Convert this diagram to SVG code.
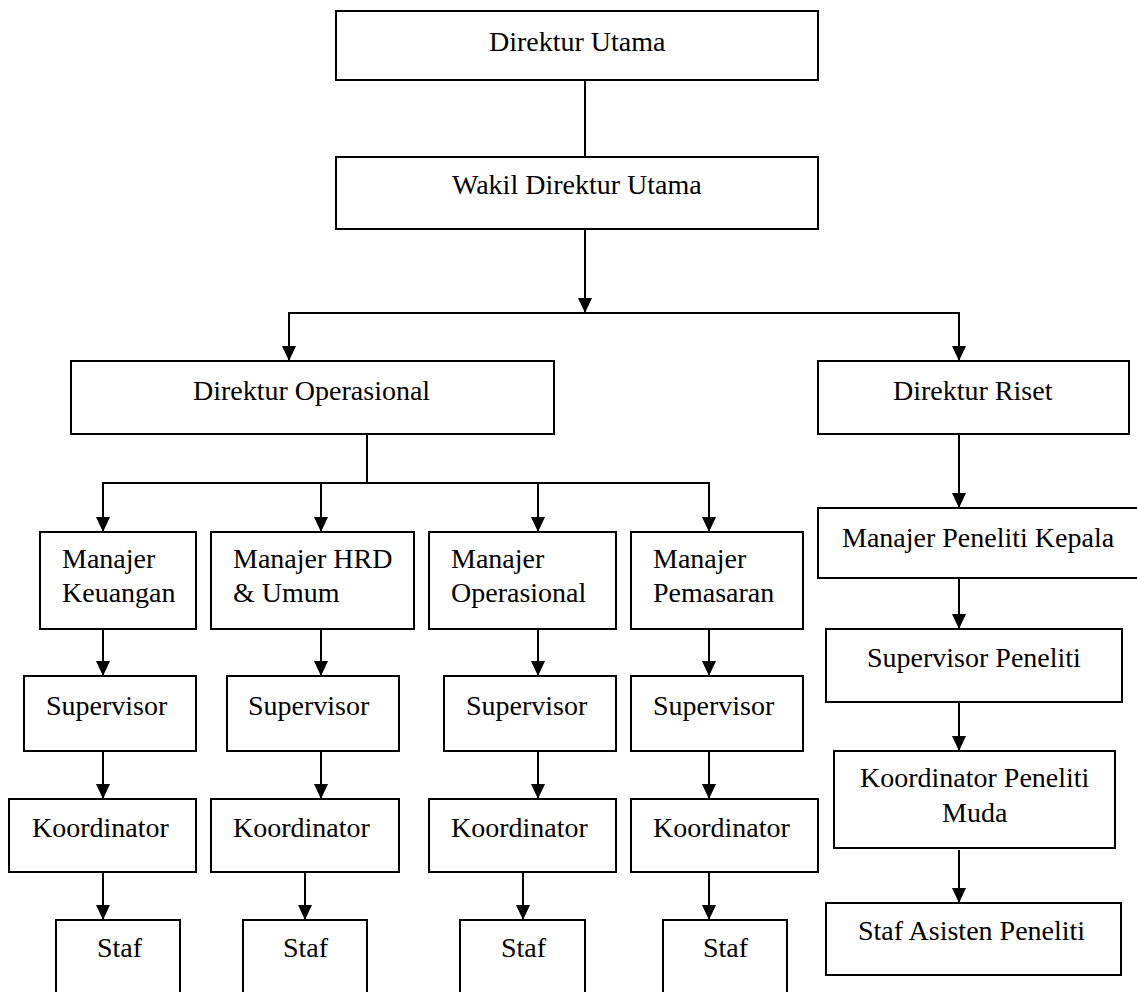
<svg xmlns="http://www.w3.org/2000/svg" width="1137" height="992" viewBox="0 0 1137 992">
<style>
rect{fill:#fff;stroke:#000;stroke-width:2}
text{font-family:'Liberation Serif','DejaVu Serif',serif;font-size:28px;fill:#000}
.c{fill:none;stroke:#000;stroke-width:2}
</style>
<defs>
<marker id="ah" markerUnits="userSpaceOnUse" markerWidth="15" markerHeight="14" refX="15" refY="7" orient="auto"><path d="M0,0 L15,7 L0,14 z" fill="#000"/></marker>
</defs>
<rect width="1137" height="992" style="stroke:none"/>
<g id="connectors">
<path class="c" d="M585,80 V157"/>
<path class="c" d="M585,229 V313" marker-end="url(#ah)"/>
<path class="c" d="M585,313 H289 V361" marker-end="url(#ah)"/>
<path class="c" d="M585,313 H959 V361" marker-end="url(#ah)"/>
<path class="c" d="M367,434 V483 H103 V532" marker-end="url(#ah)"/>
<path class="c" d="M367,483 H321 V532" marker-end="url(#ah)"/>
<path class="c" d="M367,483 H538 V532" marker-end="url(#ah)"/>
<path class="c" d="M367,483 H709 V532" marker-end="url(#ah)"/>
<path class="c" d="M103,629 V676" marker-end="url(#ah)"/>
<path class="c" d="M103,751 V799" marker-end="url(#ah)"/>
<path class="c" d="M103,872 V920" marker-end="url(#ah)"/>
<path class="c" d="M321,629 V676" marker-end="url(#ah)"/>
<path class="c" d="M321,751 V799" marker-end="url(#ah)"/>
<path class="c" d="M305,872 V920" marker-end="url(#ah)"/>
<path class="c" d="M538,629 V676" marker-end="url(#ah)"/>
<path class="c" d="M538,751 V799" marker-end="url(#ah)"/>
<path class="c" d="M523,872 V920" marker-end="url(#ah)"/>
<path class="c" d="M709,629 V676" marker-end="url(#ah)"/>
<path class="c" d="M709,751 V799" marker-end="url(#ah)"/>
<path class="c" d="M709,872 V920" marker-end="url(#ah)"/>
<path class="c" d="M959,434 V508" marker-end="url(#ah)"/>
<path class="c" d="M959,578 V629" marker-end="url(#ah)"/>
<path class="c" d="M959,702 V751" marker-end="url(#ah)"/>
<path class="c" d="M959,850 V903" marker-end="url(#ah)"/>
</g>
<g id="n-dirut"><rect x="336" y="11" width="482" height="69"/><text x="489" y="51">Direktur Utama</text></g>
<g id="n-wadirut"><rect x="336" y="157" width="482" height="72"/><text x="452" y="194">Wakil Direktur Utama</text></g>
<g id="n-dirop"><rect x="71" y="361" width="483" height="73"/><text x="193" y="400">Direktur Operasional</text></g>
<g id="n-diriset"><rect x="818" y="361" width="311" height="73"/><text x="893" y="400">Direktur Riset</text></g>
<g id="n-mkeu"><rect x="40" y="532" width="156" height="97"/><text x="62" y="568">Manajer</text><text x="62" y="602">Keuangan</text></g>
<g id="n-mhrd"><rect x="211" y="532" width="203" height="97"/><text x="233" y="568">Manajer HRD</text><text x="233" y="602">&amp; Umum</text></g>
<g id="n-mop"><rect x="429" y="532" width="187" height="97"/><text x="451" y="568">Manajer</text><text x="451" y="602">Operasional</text></g>
<g id="n-mpem"><rect x="631" y="532" width="172" height="97"/><text x="653" y="568">Manajer</text><text x="653" y="602">Pemasaran</text></g>
<g id="n-sup1"><rect x="24" y="676" width="172" height="75"/><text x="46" y="715">Supervisor</text></g>
<g id="n-sup2"><rect x="227" y="676" width="172" height="75"/><text x="248" y="715">Supervisor</text></g>
<g id="n-sup3"><rect x="444" y="676" width="172" height="75"/><text x="466" y="715">Supervisor</text></g>
<g id="n-sup4"><rect x="631" y="676" width="172" height="75"/><text x="653" y="715">Supervisor</text></g>
<g id="n-koor1"><rect x="9" y="799" width="187" height="73"/><text x="32" y="837">Koordinator</text></g>
<g id="n-koor2"><rect x="211" y="799" width="188" height="73"/><text x="233" y="837">Koordinator</text></g>
<g id="n-koor3"><rect x="429" y="799" width="187" height="73"/><text x="451" y="837">Koordinator</text></g>
<g id="n-koor4"><rect x="631" y="799" width="187" height="73"/><text x="653" y="837">Koordinator</text></g>
<g id="n-staf1"><rect x="56" y="920" width="124" height="90"/><text x="97" y="957">Staf</text></g>
<g id="n-staf2"><rect x="243" y="920" width="124" height="90"/><text x="283" y="957">Staf</text></g>
<g id="n-staf3"><rect x="460" y="920" width="125" height="90"/><text x="501" y="957">Staf</text></g>
<g id="n-staf4"><rect x="663" y="920" width="124" height="90"/><text x="703" y="957">Staf</text></g>
<g id="n-mpk"><rect x="818" y="508" width="330" height="70"/><text x="842" y="547">Manajer Peneliti Kepala</text></g>
<g id="n-supp"><rect x="826" y="629" width="296" height="73"/><text x="867" y="667">Supervisor Peneliti</text></g>
<g id="n-koorp"><rect x="834" y="751" width="281" height="97"/><text x="860" y="787">Koordinator Peneliti</text><text x="942" y="822">Muda</text></g>
<g id="n-stafap"><rect x="826" y="903" width="295" height="72"/><text x="858" y="940">Staf Asisten Peneliti</text></g>
</svg>
